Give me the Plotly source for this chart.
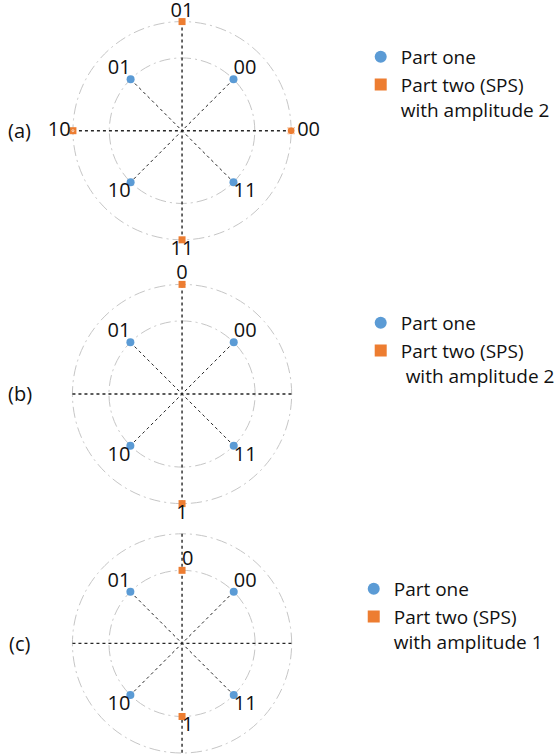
import plotly.graph_objects as go

# ---- data -------------------------------------------------------------
# radial scale: the centre sits at -1, rings at 1 and 2
R_MIN, R_MAX = -1, 2
RING_LEVELS = [1, 2]

# part one: QPSK-like points on the inner ring
part_one_theta = [45, 135, 225, 315]
part_one_amp = [1, 1, 1, 1]
part_one_labels = ["00", "01", "10", "11"]

# part two (SPS), panel (a): four symbols with amplitude 2
sps_a_theta = [0, 90, 180, 270]
sps_a_amp = [2, 2, 2, 2]
sps_a_labels = ["00", "01", "10", "11"]

# part two (SPS), panel (b): two symbols with amplitude 2
sps_b_theta = [90, 270]
sps_b_amp = [2, 2]
sps_b_labels = ["0", "1"]

# part two (SPS), panel (c): two symbols with amplitude 1
sps_c_theta = [90, 270]
sps_c_amp = [1, 1]
sps_c_labels = ["0", "1"]

panel_names = ["(a)", "(b)", "(c)"]
legend_one = "Part one"
legend_two = ["Part two (SPS)<br>with amplitude 2",
              "Part two (SPS)<br>\u00a0with amplitude 2",
              "Part two (SPS)<br>with amplitude 1"]

# ---- styling ----------------------------------------------------------
W, H = 560, 755
FONT = "Open Sans"
INK = "#111111"
BLUE = "#5B9BD5"
ORANGE = "#ED7D31"
RING = "#C6C6C6"
SPOKE = "#262626"
LABEL_SIZE = 20

# a little headroom past the outer ring so plotly keeps that grid circle
PAD = 0.04
RADIAL_RANGE = [R_MIN, R_MAX + PAD]
SCALE = (R_MAX + PAD - R_MIN) / (R_MAX - R_MIN)

# polar areas in pixels: (centre x, centre y, radius of the outer ring)
areas = [(182.7, 130.7, 109.5), (182.7, 394.0, 110.0), (182.7, 643.4, 110.0)]

# label placement per point: (textposition, spacer size that pushes text off)
part_one_place = [("top right", 0), ("top left", 0),
                  ("bottom left", 0), ("bottom right", 0)]
sps_sets = [
    (sps_a_theta, sps_a_amp, sps_a_labels,
     [("middle right", 8), ("top center", 0),
      ("middle left", 2), ("bottom center", 0)]),
    (sps_b_theta, sps_b_amp, sps_b_labels,
     [("top center", 0), ("bottom center", 0)]),
    (sps_c_theta, sps_c_amp, sps_c_labels,
     [("top right", 0), ("bottom right", 0)]),
]

centre = R_MIN
outer = RING_LEVELS[-1]

fig = go.Figure()


def add_labels(r, theta, text, place, sub):
    """Point labels drawn as a transparent-marker text layer."""
    fig.add_trace(go.Scatterpolar(
        r=r, theta=theta, mode="markers+text", text=text,
        textposition=[p for p, _ in place],
        textfont=dict(family=FONT, size=LABEL_SIZE, color=INK),
        marker=dict(size=[s for _, s in place], color="rgba(0,0,0,0)"),
        subplot=sub, showlegend=False, hoverinfo="skip", cliponaxis=False))


for i, (theta, amp, labels, place) in enumerate(sps_sets):
    sub = "polar" if i == 0 else f"polar{i + 1}"
    leg = "legend" if i == 0 else f"legend{i + 1}"

    # dotted spokes: horizontal/vertical to the outer ring, diagonals to part one
    spokes = [
        ([outer, centre, outer], [180, 0, 0], 1.4),
        ([outer, centre, outer], [90, 0, 270], 1.4),
        ([part_one_amp[1], centre, part_one_amp[3]],
         [part_one_theta[1], 0, part_one_theta[3]], 1.0),
        ([part_one_amp[0], centre, part_one_amp[2]],
         [part_one_theta[0], 0, part_one_theta[2]], 1.0),
    ]
    for r, th, w in spokes:
        fig.add_trace(go.Scatterpolar(
            r=r, theta=th, mode="lines", subplot=sub, showlegend=False,
            line=dict(color=SPOKE, width=w, dash="dot"), hoverinfo="skip",
            cliponaxis=False))

    fig.add_trace(go.Scatterpolar(
        r=part_one_amp, theta=part_one_theta, mode="markers",
        marker=dict(symbol="circle", size=8, color=BLUE),
        name=legend_one, subplot=sub, legend=leg, cliponaxis=False))

    fig.add_trace(go.Scatterpolar(
        r=amp, theta=theta, mode="markers",
        marker=dict(symbol="square", size=7, color=ORANGE),
        name=legend_two[i], subplot=sub, legend=leg, cliponaxis=False))

    add_labels(part_one_amp, part_one_theta, part_one_labels,
               part_one_place, sub)
    add_labels(amp, theta, labels, place, sub)

layout = dict(
    width=W, height=H, margin=dict(l=0, r=0, t=0, b=0),
    paper_bgcolor="white", plot_bgcolor="white",
    font=dict(family=FONT, color=INK),
    annotations=[],
)


def clamp(v):
    return min(1.0, max(0.0, v))


legend_tops = [38, 304, 570]
legend_lefts = [362, 362, 355]
for i, (cx, cy, R) in enumerate(areas):
    key = "polar" if i == 0 else f"polar{i + 1}"
    Rd = R * SCALE
    layout[key] = dict(
        domain=dict(x=[clamp((cx - Rd) / W), clamp((cx + Rd) / W)],
                    y=[clamp(1 - (cy + Rd) / H), clamp(1 - (cy - Rd) / H)]),
        bgcolor="rgba(0,0,0,0)",
        radialaxis=dict(range=RADIAL_RANGE, tickvals=RING_LEVELS,
                        showticklabels=False, ticks="", showline=False,
                        showgrid=True, gridcolor=RING, gridwidth=1.3,
                        griddash="11px,4px,2px,4px"),
        angularaxis=dict(showgrid=False, showline=False,
                         showticklabels=False, ticks=""),
    )
    lkey = "legend" if i == 0 else f"legend{i + 1}"
    layout[lkey] = dict(
        x=legend_lefts[i] / W, xanchor="left",
        y=1 - legend_tops[i] / H, yanchor="top",
        font=dict(family=FONT, size=19, color=INK),
        valign="top", bgcolor="rgba(0,0,0,0)", borderwidth=0,
        itemsizing="constant",
    )
    layout["annotations"].append(dict(
        text=panel_names[i], x=20 / W, y=1 - cy / H, xref="paper",
        yref="paper", showarrow=False, xanchor="center", yanchor="middle",
        font=dict(family=FONT, size=20, color=INK)))

fig.update_layout(**layout)
fig.write_html("out.html")
